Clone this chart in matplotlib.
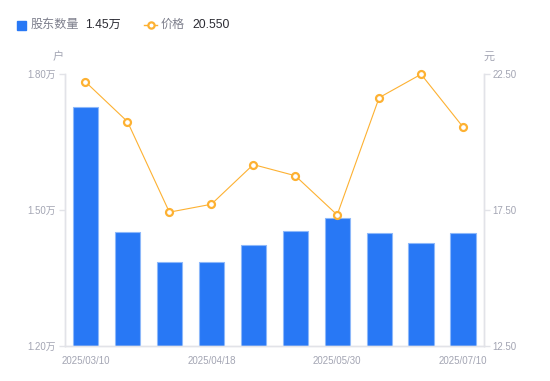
import matplotlib
matplotlib.use('Agg')
import matplotlib.pyplot as plt
from matplotlib.lines import Line2D
from matplotlib.patches import Rectangle

plt.rcParams['font.family'] = ['Liberation Sans', 'Noto Sans CJK SC', 'DejaVu Sans']

# 数据
dates = ["2025/03/10", "2025/03/20", "2025/03/31", "2025/04/18", "2025/04/30",
         "2025/05/20", "2025/05/30", "2025/06/10", "2025/06/20", "2025/07/10"]
holders = [1.727, 1.451, 1.385, 1.385, 1.422, 1.453, 1.482, 1.449, 1.427, 1.450]  # 万户
price = [22.21, 20.75, 17.42, 17.71, 19.17, 18.76, 17.32, 21.63, 22.49, 20.55]
left_ticks = [1.20, 1.50, 1.80]
right_ticks = [12.50, 17.50, 22.50]
shown_dates = [0, 3, 6, 9]

blue = '#2878F5'
orange = '#FDB132'
axis_col = '#E2E3E8'
tick_col = '#A3A5B3'

fig = plt.figure(figsize=(5.5, 3.81), dpi=100)
ax = fig.add_axes([0.1173, 0.0919, 0.7627, 0.7139])
ax2 = ax.twinx()

x = list(range(len(dates)))
ax.bar(x, holders, width=0.6, color=blue, edgecolor='#8DB8FA', linewidth=0.8, zorder=2)
ax.set_xlim(-0.5, len(dates) - 0.5)
ax.set_ylim(1.2, 1.8)
ax.set_yticks(left_ticks)
ax.set_yticklabels([f"{v:.2f}万" for v in left_ticks])
ax.set_xticks(shown_dates)
ax.set_xticklabels([dates[i] for i in shown_dates])

ax2.plot(x, price, color=orange, linewidth=0.8, marker='o', markersize=5,
         markerfacecolor='white', markeredgecolor=orange, markeredgewidth=1.6,
         zorder=3, clip_on=False)
ax2.set_ylim(12.5, 22.5)
ax2.set_yticks(right_ticks)
ax2.set_yticklabels([f"{v:.2f}" for v in right_ticks])

for a in (ax, ax2):
    a.spines['top'].set_visible(False)
    for s in ('left', 'right', 'bottom'):
        a.spines[s].set_color(axis_col)
        a.spines[s].set_linewidth(1)
    a.tick_params(colors=axis_col, labelcolor=tick_col, labelsize=7, length=4, width=1)
ax.tick_params(axis='x', length=0, pad=7)
ax.tick_params(axis='y', pad=2)
ax2.tick_params(axis='y', pad=2)

# 单位
fig.text(58.5 / 550, 1 - 57 / 381, "户", fontsize=8, color=tick_col, ha='center', va='center')
fig.text(489 / 550, 1 - 57 / 381, "元", fontsize=8, color=tick_col, ha='center', va='center')

# 图例
fig.patches.append(Rectangle((17 / 550, 1 - 29.5 / 381), 8.5 / 550, 8.5 / 381,
                             transform=fig.transFigure, color=blue, figure=fig))
fig.text(31 / 550, 1 - 25 / 381, "股东数量", fontsize=8.7, color='#7D7F8C', va='center')
fig.text(85 / 550, 1 - 25 / 381, f"{holders[-1]:.2f}万", fontsize=8.7, color='#2B2B33', va='center')
fig.lines.append(Line2D([144 / 550, 157 / 550], [1 - 25 / 381, 1 - 25 / 381],
                        transform=fig.transFigure, color=orange, linewidth=1))
fig.lines.append(Line2D([150.5 / 550], [1 - 25 / 381], transform=fig.transFigure,
                        color=orange, marker='o', markersize=4.5, markerfacecolor='white',
                        markeredgewidth=1.6, linestyle='none'))
fig.text(161 / 550, 1 - 25 / 381, "价格", fontsize=8.7, color='#7D7F8C', va='center')
fig.text(192 / 550, 1 - 25 / 381, f"{price[-1]:.3f}", fontsize=8.7, color='#2B2B33', va='center')

fig.savefig("out.png", dpi=100)
